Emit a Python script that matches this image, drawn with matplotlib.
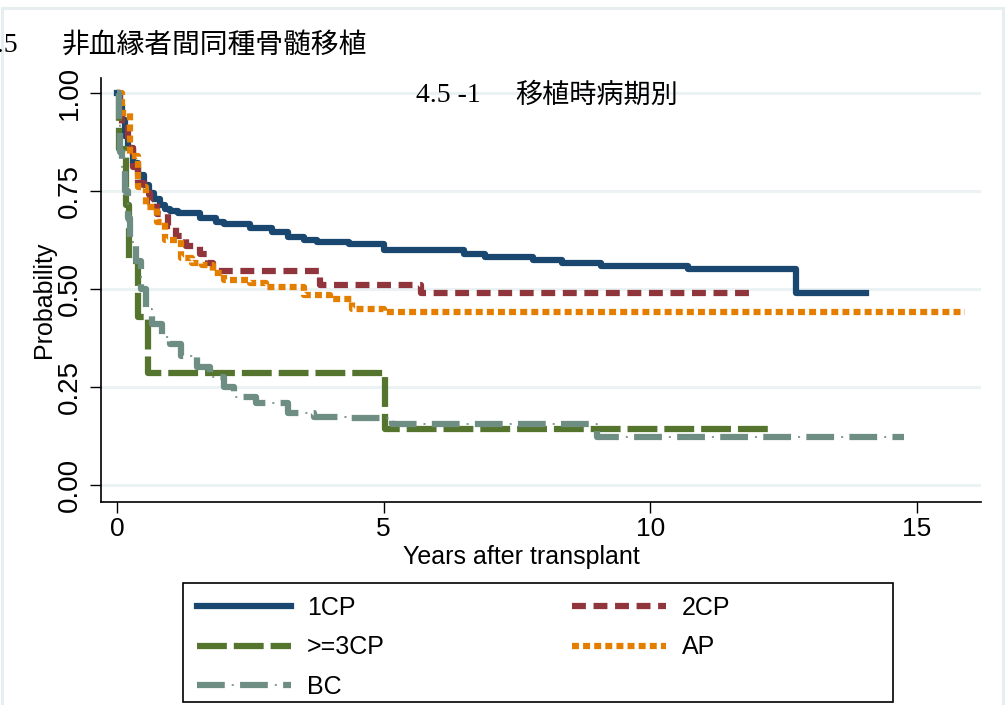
import matplotlib
matplotlib.use("Agg")
import matplotlib.pyplot as plt
from matplotlib.patches import Rectangle
from matplotlib.legend_handler import HandlerTuple

plt.rcParams['lines.scale_dashes'] = False

# Kaplan-Meier curves (years, probability)
years_1cp = [0, 0.05, 0.1, 0.15, 0.2, 0.3, 0.4, 0.5, 0.6, 0.7, 0.8, 0.9, 1.0, 1.15, 1.55,
             1.85, 2.0, 2.5, 2.9, 3.2, 3.5, 3.75, 4.35, 5.0, 6.5, 6.9, 7.8, 8.35, 9.08, 10.7,
             12.74, 14.05]
surv_1cp = [1.0, 0.97, 0.93, 0.89, 0.86, 0.82, 0.79, 0.765, 0.745, 0.73, 0.715, 0.705, 0.700,
            0.694, 0.681, 0.670, 0.665, 0.656, 0.645, 0.633, 0.625, 0.620, 0.615, 0.600, 0.590,
            0.582, 0.575, 0.566, 0.558, 0.550, 0.490, 0.490]

years_2cp = [0, 0.05, 0.1, 0.2, 0.3, 0.4, 0.5, 0.62, 0.75, 0.95, 1.1, 1.3, 1.55, 1.7, 1.8,
             3.8, 5.7, 11.9]
surv_2cp = [1.0, 0.96, 0.91, 0.86, 0.81, 0.77, 0.745, 0.72, 0.69, 0.66, 0.635, 0.61, 0.59,
            0.565, 0.545, 0.51, 0.49, 0.49]

years_3cp = [0, 0.03, 0.17, 0.23, 0.39, 0.58, 5.03, 12.2]
surv_3cp = [1.0, 0.857, 0.714, 0.571, 0.429, 0.286, 0.143, 0.143]

years_ap = [0, 0.1, 0.25, 0.4, 0.55, 0.75, 0.9, 1.2, 1.4, 1.6, 1.8, 2.0, 2.5, 2.8, 3.5, 4.0,
            4.4, 5.0, 15.9]
surv_ap = [1.0, 0.95, 0.84, 0.76, 0.71, 0.67, 0.625, 0.58, 0.566, 0.56, 0.54, 0.523, 0.515,
           0.505, 0.485, 0.475, 0.45, 0.44, 0.44]

years_bc = [0, 0.03, 0.06, 0.1, 0.15, 0.2, 0.25, 0.35, 0.45, 0.55, 0.65, 0.85, 1.0, 1.2, 1.5,
            1.75, 2.0, 2.2, 2.6, 3.2, 3.7, 4.3, 5.15, 9.0, 14.75]
surv_bc = [1.0, 0.93, 0.85, 0.80, 0.75, 0.68, 0.62, 0.57, 0.50, 0.45, 0.41, 0.378, 0.36, 0.33,
           0.30, 0.275, 0.25, 0.225, 0.209, 0.184, 0.174, 0.171, 0.156, 0.123, 0.123]

labels = ['1CP', '2CP', '>=3CP', 'AP', 'BC']
xticks = [0, 5, 10, 15]
yticks = [0, 0.25, 0.5, 0.75, 1.0]

SANS = ['Liberation Sans']
SERIF = ['Liberation Serif', 'Noto Sans CJK JP']
JP = ['Noto Sans CJK JP']

W, H = 1005, 705
fig = plt.figure(figsize=(W / 100, H / 100), dpi=100)
fig.patch.set_facecolor('white')
fig.add_artist(Rectangle((2 / W, -0.02), 1001 / W, 1.02 - 8 / H, transform=fig.transFigure,
                         fill=False, edgecolor='#e6eef0', lw=2.2))

ax = fig.add_axes([101 / W, 1 - 502 / H, 880 / W, 424 / H])
lw = 4.5
l1, = ax.step(years_1cp, surv_1cp, where='post', color='#1a476f', lw=lw)
l2, = ax.step(years_2cp, surv_2cp, where='post', color='#90353b', lw=lw, dashes=(10, 5.5))
l3, = ax.step(years_3cp, surv_3cp, where='post', color='#55752f', lw=lw, dashes=(21.5, 5))
l4, = ax.step(years_ap, surv_ap, where='post', color='#e37e00', lw=lw, dashes=(5, 3))
l5, = ax.step(years_bc, surv_bc, where='post', color='#6e8e84', lw=lw, dashes=(20, 11))
l5b, = ax.step(years_bc, surv_bc, where='post', color='#6e8e84', lw=1.2,
               linestyle=(6, (1.5, 29.5)))

ax.set_xlim(-0.30, 16.2)
ax.set_ylim(-0.0434, 1.038)
ax.set_xticks(xticks)
ax.set_xticklabels([str(v) for v in xticks], family=SANS, size=19)
ax.set_yticks(yticks)
ax.set_yticklabels([f'{v:.2f}' for v in yticks], family=SANS, size=20, rotation=90, va='center')
ax.tick_params(axis='x', length=8, width=1, pad=3)
ax.tick_params(axis='y', length=8, width=1, pad=5)
ax.grid(axis='y', color='#eaf2f3', lw=2.2)
ax.set_axisbelow(True)
for s in ['top', 'right']:
    ax.spines[s].set_visible(False)
for s in ['left', 'bottom']:
    ax.spines[s].set_linewidth(1.2)

ax.set_xlabel('Years after transplant', family=SANS, size=18, va='center')
ax.xaxis.set_label_coords(0.478, -0.1297)
ax.set_ylabel('Probability', family=SANS, size=18, va='center')
ax.yaxis.set_label_coords(-0.0648, 0.476)

# titles
fig.text(18 / W, 1 - 45 / H, '4.5', ha='right', va='center', family=SERIF, size=20)
fig.text(62 / W, 1 - 45 / H, '非血縁者間同種骨髄移植', ha='left', va='center', family=JP, size=20)
fig.text(416 / W, 1 - 95 / H, '4.5 -1', ha='left', va='center', family=SERIF, size=20)
fig.text(515 / W, 1 - 95 / H, '移植時病期別', ha='left', va='center', family=JP, size=19.5)

# legend box and two columns
fig.add_artist(Rectangle((183 / W, 1 - 702 / H), 710 / W, 119 / H, transform=fig.transFigure,
                         fill=False, edgecolor='black', lw=1.2))
common = dict(loc='upper left', frameon=False, borderpad=0, borderaxespad=0,
              handlelength=3.76, handletextpad=0.64, labelspacing=0.62,
              prop=dict(family=SANS, size=18))
fig.legend([l1, l3, (l5, l5b)], [labels[0], labels[2], labels[4]],
           bbox_to_anchor=(197 / W, 1 - 596 / H),
           handler_map={tuple: HandlerTuple(ndivide=1, pad=0)}, **common)
fig.legend([l2, l4], [labels[1], labels[3]], bbox_to_anchor=(572 / W, 1 - 596 / H), **common)

fig.savefig('out.png', dpi=100)
